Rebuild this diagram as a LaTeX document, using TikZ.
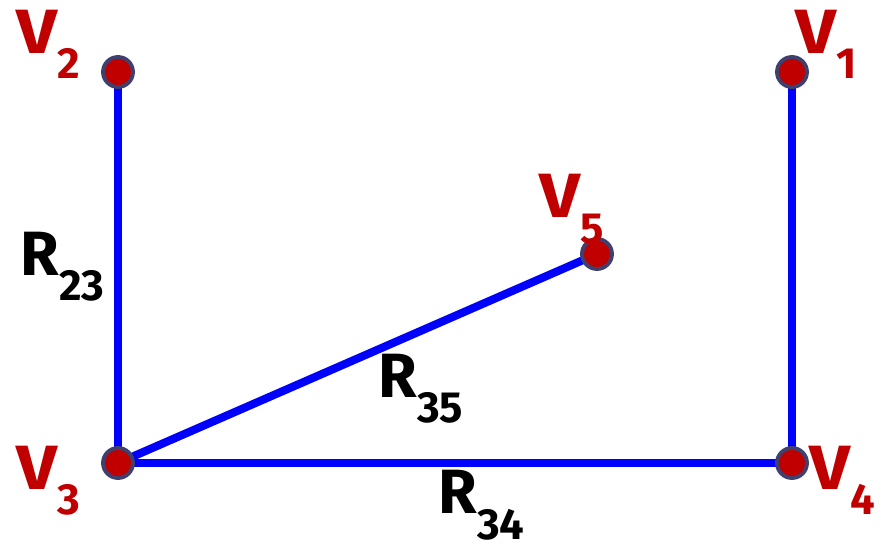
\documentclass[tikz,border=0pt]{standalone}
\usepackage{fontspec}
\setmainfont{Fira Sans}
\usepackage{tikz}
\usetikzlibrary{positioning}
\definecolor{gBlue}{RGB}{0,0,255}
\definecolor{gRed}{RGB}{192,0,0}
\definecolor{gRim}{RGB}{64,64,110}
% letter with a lowered index
\newcommand{\sublbl}[2]{#1\raisebox{-0.25cm}{\fontsize{12.4}{12.4}\selectfont #2}}
\newcommand{\wideV}{\scalebox{1.15}[1]{V}}

\begin{document}
\begin{tikzpicture}[
			vert/.style={
				circle,
				draw=gRim,
				fill=gRed,
				line width=1.1pt,
				minimum size=0.30cm,
				inner sep=0pt
			},
			wire/.style={draw=gBlue,line width=2.3pt},
			vlbl/.style={anchor=base west,inner sep=0pt,text=gRed,font=\fontsize{17.8}{17.8}\selectfont\bfseries},
			rlbl/.style={anchor=base west,inner sep=0pt,text=black,font=\fontsize{17.8}{17.8}\selectfont\bfseries}
			]
			\useasboundingbox (0,0) rectangle (8.85,5.45);
			\coordinate (p2) at (1.18,4.73);
			\coordinate (p1) at (7.92,4.73);
			\coordinate (p5) at (5.97,2.91);
			\coordinate (p3) at (1.18,0.82);
			\coordinate (p4) at (7.92,0.82);
			\draw[wire](p2)--(p3);
			\draw[wire](p3)--(p5);
			\draw[wire](p3)--(p4);
			\draw[wire](p4)--(p1);
			\node[vert](v1) at (p1){};
			\node[vert](v2) at (p2){};
			\node[vert](v3) at (p3){};
			\node[vert](v4) at (p4){};
			\node[vert](v5) at (p5){};
			\node[vlbl](l2) at (0.16,4.92){\sublbl{\wideV}{2}};
			\node[vlbl](l1) at (7.95,4.91){\sublbl{\wideV}{1}};
			\node[vlbl](l5) at (5.39,3.27){\sublbl{\wideV}{5}};
			\node[vlbl](l3) at (0.16,0.55){\sublbl{\wideV}{3}};
			\node[vlbl](l4) at (8.09,0.55){\sublbl{\wideV}{4}};
			\node[rlbl](r23) at (0.20,2.70){\sublbl{R}{23}};
			\node[rlbl](r35) at (3.78,1.47){\sublbl{R}{35}};
			\node[rlbl](r34) at (4.38,0.31){\sublbl{R}{34}};
		\end{tikzpicture}
\end{document}
